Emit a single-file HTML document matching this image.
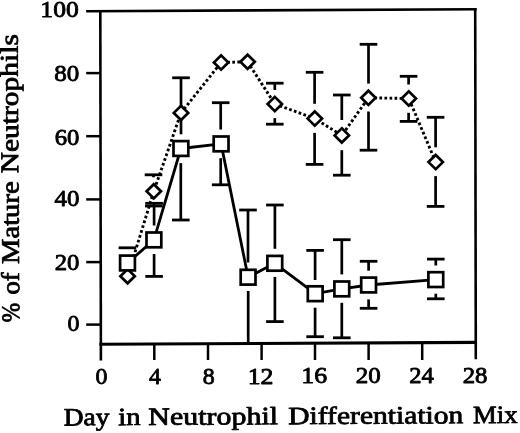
<!DOCTYPE html>
<html><head><meta charset="utf-8"><title>Neutrophil chart</title>
<style>
html,body{margin:0;padding:0;background:#fff;}
body{width:520px;height:433px;overflow:hidden;}
svg{display:block;filter:grayscale(100%);}
text{font-family:"Liberation Serif",serif;font-weight:normal;fill:#000;stroke:#000;stroke-width:0.8px;stroke-linejoin:round;}
text.d{stroke-width:0.9px;}
</style></head>
<body>
<svg width="520" height="433" viewBox="0 0 520 433">

<g fill="none" stroke="#000" stroke-linecap="butt">
<line x1="86.1" y1="11.2" x2="476.6" y2="9.2" stroke-width="2.6"/>
<line x1="100.3" y1="10" x2="100.9" y2="360.4" stroke-width="2.6"/>
<line x1="475.2" y1="8" x2="475.8" y2="359.2" stroke-width="2.6"/>
<line x1="99.4" y1="344.2" x2="477" y2="342.4" stroke-width="3.1"/>
<line x1="86.2" y1="73.1" x2="100.5" y2="73.1" stroke-width="2.5"/>
<line x1="86.2" y1="136.2" x2="100.5" y2="136.2" stroke-width="2.5"/>
<line x1="86.2" y1="199.4" x2="100.5" y2="199.4" stroke-width="2.5"/>
<line x1="86.2" y1="262.1" x2="100.5" y2="262.1" stroke-width="2.5"/>
<line x1="86.2" y1="324.6" x2="100.5" y2="324.6" stroke-width="2.5"/>
<line x1="154.3" y1="343.9" x2="154.3" y2="360" stroke-width="2.5"/>
<line x1="208" y1="343.7" x2="208" y2="360" stroke-width="2.5"/>
<line x1="261.6" y1="343.4" x2="261.6" y2="360" stroke-width="2.5"/>
<line x1="315" y1="343.2" x2="315" y2="360" stroke-width="2.5"/>
<line x1="368.6" y1="342.9" x2="368.6" y2="360" stroke-width="2.5"/>
<line x1="422.2" y1="342.6" x2="422.2" y2="360" stroke-width="2.5"/>
</g>
<polyline points="127.6,276.2 153.8,191.3 181,112.9 221.1,62.5 247.6,61.8 274.8,104 314.8,118.6 341.8,135.4 368.4,97.8 408.8,98.5 435.7,162.1" fill="none" stroke="#000" stroke-width="2.9" stroke-dasharray="2.7 2.35"/>
<polyline points="127.5,263 153.9,239.9 180.9,148.5 221.1,143.9 248.1,277.2 274.8,263.3 315.2,293.7 341.8,288.9 368.6,285 435.8,279.6" fill="none" stroke="#000" stroke-width="2.8" stroke-linejoin="round"/>
<g stroke="#000" fill="none">
<line x1="118.6" y1="247.8" x2="136.2" y2="247.8" stroke-width="2.8"/>
<line x1="154.1" y1="203.3" x2="154.1" y2="225.5" stroke-width="2.7"/>
<line x1="145.3" y1="203.3" x2="162.9" y2="203.3" stroke-width="2.8"/>
<line x1="154.1" y1="254" x2="154.1" y2="276.4" stroke-width="2.7"/>
<line x1="145.3" y1="276.4" x2="162.9" y2="276.4" stroke-width="2.8"/>
<line x1="181" y1="120.3" x2="181" y2="134.3" stroke-width="2.7"/>
<line x1="180.8" y1="163.1" x2="180.8" y2="220" stroke-width="2.7"/>
<line x1="172" y1="220" x2="189.6" y2="220" stroke-width="2.8"/>
<line x1="220.7" y1="102.7" x2="220.7" y2="129.5" stroke-width="2.7"/>
<line x1="211.9" y1="102.7" x2="229.5" y2="102.7" stroke-width="2.8"/>
<line x1="220.7" y1="158.2" x2="220.7" y2="184.8" stroke-width="2.7"/>
<line x1="211.9" y1="184.8" x2="229.5" y2="184.8" stroke-width="2.8"/>
<line x1="248" y1="210" x2="248" y2="262.5" stroke-width="2.7"/>
<line x1="239.2" y1="210" x2="256.8" y2="210" stroke-width="2.8"/>
<line x1="248.2" y1="291" x2="248.2" y2="343" stroke-width="2.7"/>
<line x1="274.9" y1="205" x2="274.9" y2="248.8" stroke-width="2.7"/>
<line x1="266.1" y1="205" x2="283.7" y2="205" stroke-width="2.8"/>
<line x1="274.9" y1="276.9" x2="274.9" y2="321.6" stroke-width="2.7"/>
<line x1="266.1" y1="321.6" x2="283.7" y2="321.6" stroke-width="2.8"/>
<line x1="315.1" y1="250.4" x2="315.1" y2="280" stroke-width="2.7"/>
<line x1="306.3" y1="250.4" x2="323.9" y2="250.4" stroke-width="2.8"/>
<line x1="315.1" y1="307.7" x2="315.1" y2="336.7" stroke-width="2.7"/>
<line x1="306.3" y1="336.7" x2="323.9" y2="336.7" stroke-width="2.8"/>
<line x1="341.8" y1="239.7" x2="341.8" y2="274.4" stroke-width="2.7"/>
<line x1="333" y1="239.7" x2="350.6" y2="239.7" stroke-width="2.8"/>
<line x1="341.8" y1="302.8" x2="341.8" y2="337.8" stroke-width="2.7"/>
<line x1="333" y1="337.8" x2="350.6" y2="337.8" stroke-width="2.8"/>
<line x1="368.6" y1="261.3" x2="368.6" y2="270.7" stroke-width="2.7"/>
<line x1="359.8" y1="261.3" x2="377.4" y2="261.3" stroke-width="2.8"/>
<line x1="368.6" y1="299.4" x2="368.6" y2="308.3" stroke-width="2.7"/>
<line x1="359.8" y1="308.3" x2="377.4" y2="308.3" stroke-width="2.8"/>
<line x1="435.8" y1="259.1" x2="435.8" y2="265.5" stroke-width="2.7"/>
<line x1="427" y1="259.1" x2="444.6" y2="259.1" stroke-width="2.8"/>
<line x1="435.8" y1="293.7" x2="435.8" y2="298.8" stroke-width="2.7"/>
<line x1="427" y1="298.8" x2="444.6" y2="298.8" stroke-width="2.8"/>
<line x1="153.5" y1="174.8" x2="153.5" y2="177.3" stroke-width="2.7"/>
<line x1="144.7" y1="174.8" x2="162.3" y2="174.8" stroke-width="2.8"/>
<line x1="145" y1="206" x2="162.6" y2="206" stroke-width="2.8"/>
<line x1="181" y1="77.8" x2="181" y2="106" stroke-width="2.7"/>
<line x1="172.2" y1="77.8" x2="189.8" y2="77.8" stroke-width="2.8"/>
<line x1="274.8" y1="83.2" x2="274.8" y2="90" stroke-width="2.7"/>
<line x1="266" y1="83.2" x2="283.6" y2="83.2" stroke-width="2.8"/>
<line x1="274.8" y1="118.1" x2="274.8" y2="124.2" stroke-width="2.7"/>
<line x1="266" y1="124.2" x2="283.6" y2="124.2" stroke-width="2.8"/>
<line x1="314.6" y1="72.3" x2="314.6" y2="103.8" stroke-width="2.7"/>
<line x1="305.8" y1="72.3" x2="323.4" y2="72.3" stroke-width="2.8"/>
<line x1="314.6" y1="132.9" x2="314.6" y2="164.4" stroke-width="2.7"/>
<line x1="305.8" y1="164.4" x2="323.4" y2="164.4" stroke-width="2.8"/>
<line x1="341.8" y1="95" x2="341.8" y2="120" stroke-width="2.7"/>
<line x1="333" y1="95" x2="350.6" y2="95" stroke-width="2.8"/>
<line x1="341.8" y1="150.2" x2="341.8" y2="175.2" stroke-width="2.7"/>
<line x1="333" y1="175.2" x2="350.6" y2="175.2" stroke-width="2.8"/>
<line x1="368.5" y1="44.3" x2="368.5" y2="83.6" stroke-width="2.7"/>
<line x1="359.7" y1="44.3" x2="377.3" y2="44.3" stroke-width="2.8"/>
<line x1="368.5" y1="111.5" x2="368.5" y2="150.2" stroke-width="2.7"/>
<line x1="359.7" y1="150.2" x2="377.3" y2="150.2" stroke-width="2.8"/>
<line x1="408.6" y1="76.3" x2="408.6" y2="84.5" stroke-width="2.7"/>
<line x1="399.8" y1="76.3" x2="417.4" y2="76.3" stroke-width="2.8"/>
<line x1="408.6" y1="112.8" x2="408.6" y2="121.4" stroke-width="2.7"/>
<line x1="399.8" y1="121.4" x2="417.4" y2="121.4" stroke-width="2.8"/>
<line x1="435.6" y1="117.3" x2="435.6" y2="147.3" stroke-width="2.7"/>
<line x1="426.8" y1="117.3" x2="444.4" y2="117.3" stroke-width="2.8"/>
<line x1="435.6" y1="176.1" x2="435.6" y2="206.4" stroke-width="2.7"/>
<line x1="426.8" y1="206.4" x2="444.4" y2="206.4" stroke-width="2.8"/>
</g>
<g stroke="#000" fill="#fff" stroke-width="2.7" stroke-linejoin="miter">
<path d="M127.6 269.1L134.8 276.2L127.6 283.3L120.4 276.2Z"/>
<path d="M153.8 184.2L161 191.3L153.8 198.4L146.6 191.3Z"/>
<path d="M181 105.8L188.2 112.9L181 120L173.8 112.9Z"/>
<path d="M221.1 55.4L228.3 62.5L221.1 69.6L213.9 62.5Z"/>
<path d="M247.6 54.7L254.8 61.8L247.6 68.9L240.4 61.8Z"/>
<path d="M274.8 96.9L282 104L274.8 111.1L267.6 104Z"/>
<path d="M314.8 111.5L322 118.6L314.8 125.7L307.6 118.6Z"/>
<path d="M341.8 128.3L349 135.4L341.8 142.5L334.6 135.4Z"/>
<path d="M368.4 90.7L375.6 97.8L368.4 104.9L361.2 97.8Z"/>
<path d="M408.8 91.4L416 98.5L408.8 105.6L401.6 98.5Z"/>
<path d="M435.7 155L442.9 162.1L435.7 169.2L428.5 162.1Z"/>
<rect x="120.1" y="255.6" width="14.8" height="14.8"/>
<rect x="146.5" y="232.5" width="14.8" height="14.8"/>
<rect x="173.5" y="141.1" width="14.8" height="14.8"/>
<rect x="213.7" y="136.5" width="14.8" height="14.8"/>
<rect x="240.7" y="269.8" width="14.8" height="14.8"/>
<rect x="267.4" y="255.9" width="14.8" height="14.8"/>
<rect x="307.8" y="286.3" width="14.8" height="14.8"/>
<rect x="334.4" y="281.5" width="14.8" height="14.8"/>
<rect x="361.2" y="277.6" width="14.8" height="14.8"/>
<rect x="428.4" y="272.2" width="14.8" height="14.8"/>
</g>
<text class="d" transform="translate(40.36 17.46) scale(1.0241 0.9362)" font-size="25">100</text>
<text class="d" transform="translate(54.35 80.87) scale(1.0000 0.9305)" font-size="25">80</text>
<text class="d" transform="translate(54.63 144.66) scale(0.9885 0.9362)" font-size="25">60</text>
<text class="d" transform="translate(54.45 206.06) scale(0.9959 0.9418)" font-size="25">40</text>
<text class="d" transform="translate(54.63 270.06) scale(0.9885 0.9418)" font-size="25">20</text>
<text class="d" transform="translate(67.47 330.69) scale(0.9565 0.8965)" font-size="25">0</text>
<text class="d" transform="translate(95.57 384.06) scale(0.9565 0.9418)" font-size="25">0</text>
<text class="d" transform="translate(149.05 384.09) scale(0.9520 0.9507)" font-size="25">4</text>
<text class="d" transform="translate(202.87 383.86) scale(0.9565 0.9475)" font-size="25">8</text>
<text class="d" transform="translate(247.64 383.89) scale(1.0324 0.9623)" font-size="25">12</text>
<text class="d" transform="translate(301.24 383.45) scale(1.0348 0.9600)" font-size="25">16</text>
<text class="d" transform="translate(355.82 383.07) scale(1.0010 0.9305)" font-size="25">20</text>
<text class="d" transform="translate(409.23 383.09) scale(0.9846 0.9507)" font-size="25">24</text>
<text class="d" transform="translate(462.63 382.86) scale(0.9927 0.9418)" font-size="25">28</text>
<text transform="translate(63.64 425.43) rotate(-0.31) scale(1.1003 1)" font-size="25">Day</text>
<text transform="translate(118.21 425.13) rotate(-0.31) scale(1.1458 1)" font-size="25">in</text>
<text transform="translate(148.3 424.97) rotate(-0.31) scale(1.1986 1)" font-size="25">Neutrophil</text>
<text transform="translate(288.21 424.2) rotate(-0.31) scale(1.1838 1)" font-size="25">Differentiation</text>
<text transform="translate(473.05 423.18) rotate(-0.31) scale(1.0683 1)" font-size="25">Mix</text>
<text transform="translate(19.34 322.31) rotate(-90.31) scale(0.9136 1)" font-size="25.5">%</text>
<text transform="translate(19.16 294.61) rotate(-90.31) scale(1.0571 1)" font-size="25.5">of</text>
<text transform="translate(18.96 264.07) rotate(-90.31) scale(1.1244 1)" font-size="25.5">Mature</text>
<text transform="translate(18.36 173.28) rotate(-90.31) scale(1.1573 1)" font-size="25.5">Neutrophils</text>
</svg>
</body></html>
